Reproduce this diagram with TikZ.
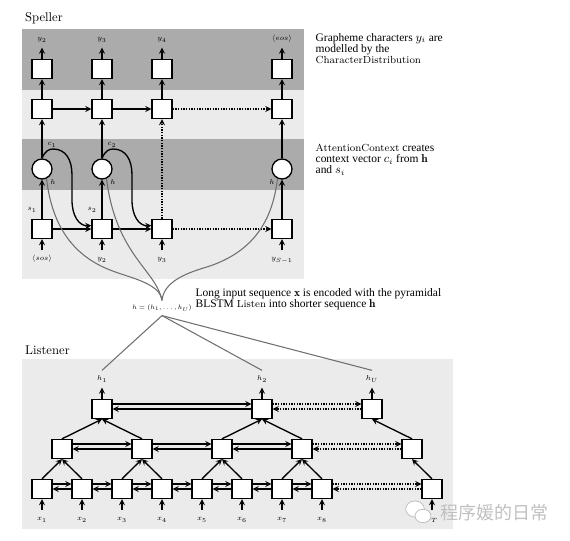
\documentclass[tikz,border=0pt]{standalone}
\usepackage{fontspec}
\usetikzlibrary{shapes.geometric}
\newfontfamily\notefont{Liberation Serif}
\newfontfamily\cjkfont{Noto Sans CJK SC}
\newcommand{\modname}[1]{{\fontsize{7.7}{8.2}\selectfont\rmfamily #1}}
\definecolor{banddark}{HTML}{ABABAB}
\definecolor{bandlight}{HTML}{EBEBEB}
\definecolor{linkgray}{HTML}{707070}
\definecolor{markgray}{HTML}{C0C0C0}
\begin{document}
\begin{tikzpicture}[x=0.75pt,y=-0.75pt,line width=1pt,>=stealth,
  cell/.style={draw,fill=white,minimum width=15pt,minimum height=14.25pt,inner sep=0pt},
  attend/.style={draw,fill=white,circle,minimum size=15pt,inner sep=0pt},
  small/.style={font=\fontsize{6}{7}\selectfont,text height=4.5pt,text depth=1.5pt,inner sep=3.7pt,scale=0.9},
  title/.style={font=\fontsize{9.5}{11}\selectfont,anchor=west},
  note/.style={font=\fontsize{8.6}{8.2}\selectfont\notefont,anchor=north west,align=left,inner sep=0pt},
  link/.style={linkgray,line width=0.8pt}]
\useasboundingbox (0,0) rectangle (570,541);
% bands
\fill[banddark] (22,29) rectangle (304,90);
\fill[bandlight] (22,90) rectangle (304,139);
\fill[banddark] (22,139) rectangle (304,190);
\fill[bandlight] (22,190) rectangle (304,279);
\fill[bandlight] (22,359) rectangle (453,529);
\node[title] (speller) at (20,18) {Speller};
\node[title] (listener) at (20,350) {Listener};
% speller
\foreach \i/\x in {1/42,2/102,3/162,4/282}{
  \node[cell] (ch\i) at (\x,69) {};
  \node[cell] (de\i) at (\x,109) {};
  \node[cell] (st\i) at (\x,229) {};
  \draw[->] (de\i) -- (ch\i);
}
\foreach \i/\x in {1/42,2/102,4/282}{\node[attend] (at\i) at (\x,169) {};}
\foreach \i/\x/\t in {1/42/y_2,2/102/y_3,3/162/y_4,4/282/\langle eos\rangle}{
  \node[small] (out\i) at (\x,39) {$\t$};
  \draw[->] (ch\i) -- (out\i);
}
\foreach \i/\x/\t in {1/42/\langle sos\rangle,2/102/y_2,3/162/y_3,4/282/y_{S-1}}{
  \node[small] (in\i) at (\x,259) {$\t$};
  \draw[->] (in\i) -- (st\i);
}
\foreach \i in {1,2,4}{\draw[->] (at\i) -- (de\i); \draw[->] (st\i) -- (at\i);}
\draw[->,densely dotted] (st3) -- (de3);
\draw[->] (de1) -- (de2); \draw[->] (de2) -- (de3); \draw[->,densely dotted] (de3) -- (de4);
\draw[->] (st1) -- (st2); \draw[->] (st2) -- (st3); \draw[->,densely dotted] (st3) -- (st4);
\draw[->] (at1.north) .. controls (45,151) and (49,149) .. (53,149) .. controls (66,149) and (72,160) .. (72,175) -- (72,200) .. controls (72,216) and (79,226) .. ([yshift=2.5pt]st2.west);
\draw[->] (at2.north) .. controls (105,151) and (109,149) .. (113,149) .. controls (126,149) and (132,160) .. (132,175) -- (132,200) .. controls (132,216) and (139,226) .. ([yshift=2.5pt]st3.west);
\node[small] (c1) at (52,144) {$c_1$};
\node[small] (c2) at (112,144) {$c_2$};
\node[small] (s1) at (32,209) {$s_1$};
\node[small] (s2) at (92,209) {$s_2$};
\node[small] (ha) at (53,183) {$h$};
\node[small] (hb) at (113,183) {$h$};
\node[small] (hc) at (272,183) {$h$};
% encoded sequence
\node[small,scale=0.88] (seq) at (162,308) {$h=(h_1,\ldots,h_U)$};
\draw[link] (seq.north) .. controls (160,283) and (130,278) .. (110,270) .. controls (72,255) and (52,225) .. (at1.-65);
\draw[link] (seq.north) .. controls (156,270) and (116,255) .. (at2.-65);
\draw[link] (seq.north) .. controls (164,280) and (190,272) .. (210,266) .. controls (250,252) and (272,225) .. (at4.-115);
% listener
\foreach \i/\x in {1/42,2/82,3/122,4/162,5/202,6/242,7/282,8/322}{
  \node[cell] (lb\i) at (\x,489) {};
  \node[small] (x\i) at (\x,519) {$x_\i$};
  \draw[->] (x\i) -- (lb\i);
}
\node[cell] (lb9) at (432,489) {};
\node[small] (x9) at (432,519) {$x_T$};
\draw[->] (x9) -- (lb9);
\foreach \i/\x in {1/62,2/142,3/222,4/302,5/412}{\node[cell] (lm\i) at (\x,449) {};}
\foreach \i/\x/\t in {1/102/h_1,2/262/h_2,3/372/h_U}{
  \node[cell] (lt\i) at (\x,409) {};
  \node[small] (h\i) at (\x,379) {$\t$};
  \draw[->] (lt\i) -- (h\i);
  \draw[link] (seq.south) -- (h\i.north);
}
\foreach \a/\b in {lb1/lb2,lb2/lb3,lb3/lb4,lb4/lb5,lb5/lb6,lb6/lb7,lb7/lb8,lm1/lm2,lm2/lm3,lm3/lm4,lt1/lt2}{
  \draw[->] ([yshift=3.75pt]\a.east) -- ([yshift=3.75pt]\b.west);
  \draw[->] (\b.west) -- (\a.east);
}
\foreach \a/\b in {lb8/lb9,lm4/lm5,lt2/lt3}{
  \draw[->,densely dotted] ([yshift=3.75pt]\a.east) -- ([yshift=3.75pt]\b.west);
  \draw[->,densely dotted] (\b.west) -- (\a.east);
}
\foreach \a/\b in {lb1/lm1,lb2/lm1,lb3/lm2,lb4/lm2,lb5/lm3,lb6/lm3,lb7/lm4,lb8/lm4,lb9/lm5,lm1/lt1,lm2/lt1,lm3/lt2,lm4/lt2,lm5/lt3}{
  \draw[->] (\a.north) -- (\b.south);
}
% notes
\node[note] (notea) at (315,33) {Grapheme characters $y_i$ are\\modelled by the\\\modname{CharacterDistribution}};
\node[note] (noteb) at (315,144) {\modname{AttentionContext} creates\\context vector $c_i$ from $\mathbf{h}$\\and $s_i$};
\node[note] (notec) at (195,288) {Long input sequence $\mathbf{x}$ is encoded with the pyramidal\\BLSTM \modname{Listen} into shorter sequence $\mathbf{h}$};
% watermark
\node[draw=markgray,fill=white,ellipse,minimum width=14pt,minimum height=12pt,inner sep=0pt,line width=0.6pt] (bubblea) at (415,509) {};
\node[draw=markgray,fill=white,ellipse,minimum width=12pt,minimum height=10pt,inner sep=0pt,line width=0.6pt] (bubbleb) at (423,516) {};
\node[markgray,font=\fontsize{13.5}{15}\selectfont\cjkfont,anchor=west,inner sep=0pt] (mark) at (440,513) {程序媛的日常};
\end{tikzpicture}
\end{document}
